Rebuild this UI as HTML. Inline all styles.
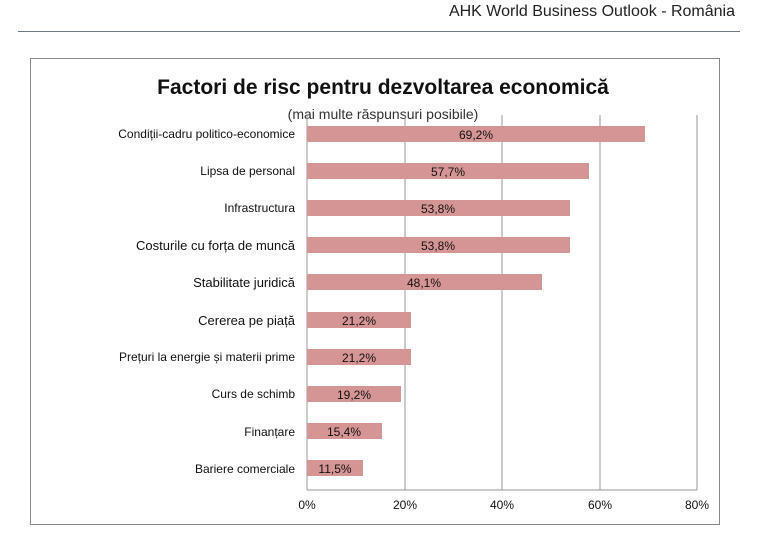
<!DOCTYPE html>
<html><head><meta charset="utf-8"><style>
body{margin:0;width:757px;height:533px;background:#fff;position:relative;overflow:hidden;font-family:"Liberation Sans",sans-serif}
.hdr{position:absolute;right:22px;top:3px;font-size:16px;color:#222}
.hl{position:absolute;left:18px;top:31px;width:722px;height:1px;background:#6a7a88}
.box{position:absolute;left:30px;top:58px;width:690px;height:467px;border:1px solid #888;box-sizing:border-box}
</style></head><body>
<div class="hdr">AHK World Business Outlook - România</div>
<div class="hl"></div>
<div class="box"></div>
<svg width="757" height="533" style="position:absolute;left:0;top:0" font-family="Liberation Sans, DejaVu Sans, sans-serif">
<text x="383" y="94" text-anchor="middle" font-size="21" font-weight="bold" fill="#111">Factori de risc pentru dezvoltarea economică</text>
<text x="383" y="119" text-anchor="middle" font-size="14" fill="#333">(mai multe răspunsuri posibile)</text>
<g stroke="#999" stroke-width="1">
<line x1="405" y1="115" x2="405" y2="490"/><line x1="502" y1="115" x2="502" y2="490"/><line x1="600" y1="115" x2="600" y2="490"/><line x1="697" y1="115" x2="697" y2="490"/>
<line x1="307" y1="115" x2="307" y2="490"/><line x1="307" y1="490" x2="697" y2="490"/>
</g>
<g fill="#d69595">
<rect x="307" y="126" width="338" height="16"/>
<rect x="307" y="163" width="282" height="16"/>
<rect x="307" y="200" width="263" height="16"/>
<rect x="307" y="237" width="263" height="16"/>
<rect x="307" y="274" width="235" height="16"/>
<rect x="307" y="312" width="104" height="16"/>
<rect x="307" y="349" width="104" height="16"/>
<rect x="307" y="386" width="94" height="16"/>
<rect x="307" y="423" width="75" height="16"/>
<rect x="307" y="460" width="56" height="16"/>
</g>
<g font-size="12" fill="#111" text-anchor="middle">
<text x="476" y="139">69,2%</text><text x="448" y="176">57,7%</text><text x="438" y="213">53,8%</text><text x="438" y="250">53,8%</text><text x="424" y="287">48,1%</text><text x="359" y="325">21,2%</text><text x="359" y="362">21,2%</text><text x="354" y="399">19,2%</text><text x="344" y="436">15,4%</text><text x="335" y="473">11,5%</text>
</g>
<g font-size="12" fill="#111" text-anchor="end">
<text x="295" y="138">Condiții-cadru politico-economice</text>
<text x="295" y="175">Lipsa de personal</text>
<text x="295" y="212">Infrastructura</text>
<text x="295" y="250" font-size="13">Costurile cu forța de muncă</text>
<text x="295" y="287" font-size="13">Stabilitate juridică</text>
<text x="295" y="325" font-size="13">Cererea pe piață</text>
<text x="295" y="361">Prețuri la energie și materii prime</text>
<text x="295" y="398">Curs de schimb</text>
<text x="295" y="436">Finanțare</text>
<text x="295" y="473">Bariere comerciale</text>
</g>
<g font-size="12" fill="#111" text-anchor="middle">
<text x="307" y="509">0%</text><text x="405" y="509">20%</text><text x="502" y="509">40%</text><text x="600" y="509">60%</text><text x="697" y="509">80%</text>
</g>
</svg>
</body></html>
